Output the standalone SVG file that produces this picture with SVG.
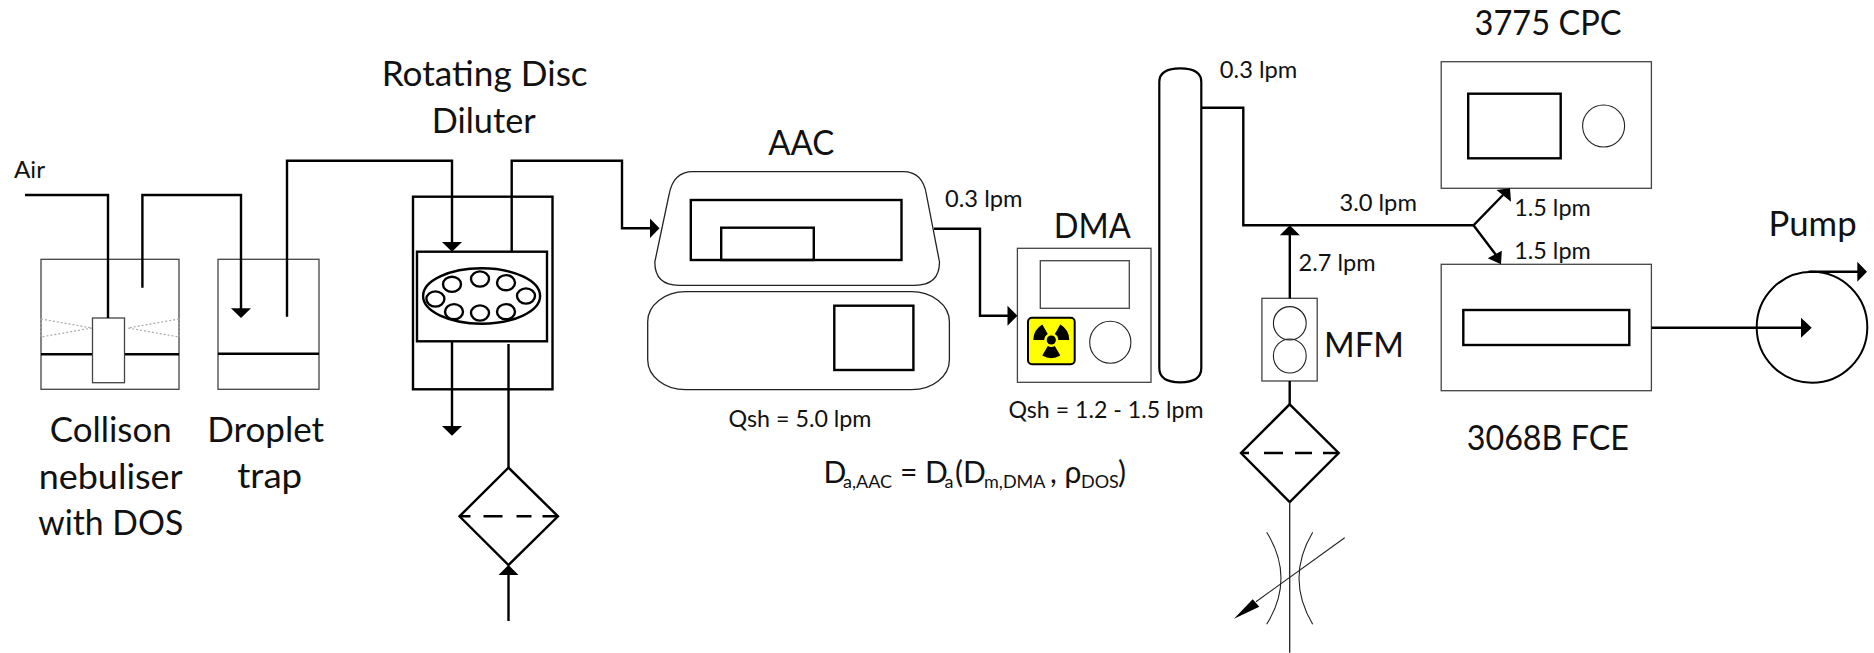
<svg xmlns="http://www.w3.org/2000/svg" width="1874" height="653" viewBox="0 0 1874 653">
<style>
text{font-family:Lato,"Open Sans","Liberation Sans",sans-serif;fill:#111}
.big{font-size:35px}
.sm{font-size:23px}
.eq{font-size:30px}
.sub{font-size:18px}
.box{fill:#fff;stroke:#444;stroke-width:1.3}
.thin{fill:none;stroke:#222;stroke-width:1.1}
.thick{fill:none;stroke:#000;stroke-width:2.4}
.ln{fill:none;stroke:#000;stroke-width:2.4}
.ah{fill:#000;stroke:none}
</style>
<rect width="1874" height="653" fill="#fff"/>
<g id="nebuliser">
<rect class="box" x="41" y="259.3" width="138" height="130"/>
<path d="M41,319L92,328L41,337Z M179,319L128,328L179,337Z" fill="none" stroke="#aaa" stroke-width="1.2" stroke-dasharray="2 2"/>
<path class="ln" d="M41,354.3H179"/>
<rect class="box" x="92.5" y="318" width="32" height="64.7"/>
<text class="big" x="110.7" y="441.7" text-anchor="middle" textLength="122" lengthAdjust="spacingAndGlyphs">Collison</text>
<text class="big" x="110.7" y="489" text-anchor="middle" textLength="144" lengthAdjust="spacingAndGlyphs">nebuliser</text>
<text class="big" x="110.7" y="535" text-anchor="middle" textLength="145" lengthAdjust="spacingAndGlyphs">with DOS</text>
</g>
<g id="trap">
<rect class="box" x="218" y="259.3" width="101" height="130"/>
<path class="ln" d="M218,353.7H319"/>
<text class="big" x="265.7" y="441.7" text-anchor="middle" textLength="117" lengthAdjust="spacingAndGlyphs">Droplet</text>
<text class="big" x="269.7" y="488" text-anchor="middle" textLength="65" lengthAdjust="spacingAndGlyphs">trap</text>
</g>
<g id="diluter">
<rect class="thick" x="413" y="196.7" width="139.5" height="192.6"/>
<rect class="thick" x="417" y="251.7" width="130" height="89.6" style="fill:#fff"/>
<ellipse class="thick" cx="481.6" cy="296" rx="58.5" ry="27.7"/>
<g class="thick">
<ellipse cx="452" cy="284.3" rx="9" ry="7.6"/><ellipse cx="480" cy="279" rx="9" ry="7.6"/><ellipse cx="506" cy="282.7" rx="9" ry="7.6"/><ellipse cx="526" cy="296" rx="9" ry="7.6"/><ellipse cx="435.4" cy="299" rx="9" ry="7.6"/><ellipse cx="454" cy="311.7" rx="9" ry="7.6"/><ellipse cx="480" cy="313" rx="9" ry="7.6"/><ellipse cx="506" cy="311.7" rx="9" ry="7.6"/>
</g>
<text class="big" x="484.7" y="86" text-anchor="middle" textLength="206" lengthAdjust="spacingAndGlyphs">Rotating Disc</text>
<text class="big" x="483.8" y="132.7" text-anchor="middle" textLength="104" lengthAdjust="spacingAndGlyphs">Diluter</text>
</g>
<g id="filter1">
<path class="thick" style="fill:#fff" d="M508.5,467.7L558,516.3L508.5,565L459.5,516.3Z"/>
<path class="ln" d="M459.5,516.3H558" stroke-dasharray="11 13 19 14 15 11 16"/>
</g>
<g id="aac">
<path class="box" style="stroke:#222" d="M693,171.7H903Q923,171.7 926.5,195L939.5,262Q939.5,285.3 914.6,285.3H679Q654.8,285.3 654.8,262L669,195Q673,171.7 693,171.7Z"/>
<rect class="thick" x="690.8" y="200" width="210.7" height="60"/>
<rect class="thick" x="721.2" y="227.7" width="92.6" height="32.3"/>
<rect class="box" style="stroke:#222" x="647.7" y="291.7" width="301.7" height="98" rx="38" ry="30"/>
<rect class="thick" x="834.3" y="305.7" width="79.1" height="64.3"/>
<text class="big" x="801.3" y="155" text-anchor="middle" textLength="66" lengthAdjust="spacingAndGlyphs">AAC</text>
<text class="sm" x="800" y="426.7" text-anchor="middle" textLength="143" lengthAdjust="spacingAndGlyphs">Qsh = 5.0 lpm</text>
</g>
<g id="dma">
<rect class="box" x="1017.4" y="248.3" width="133.6" height="134"/>
<rect class="box" x="1040.3" y="260.7" width="89" height="47.6"/>
<rect x="1028" y="317.7" width="46.7" height="46.6" rx="4" fill="#ff0" stroke="#000" stroke-width="2"/>
<circle cx="1051.3" cy="340" r="4.6" fill="#000"/>
<path fill="#000" d="M1044.3,340H1033.3A18,18 0 0 1 1042.3,324.4L1047.8,333.9A7,7 0 0 0 1044.3,340Z M1058.3,340H1069.3A18,18 0 0 0 1060.3,324.4L1054.8,333.9A7,7 0 0 1 1058.3,340Z M1054.8,346.1L1060.3,355.6A18,18 0 0 1 1042.3,355.6L1047.8,346.1A7,7 0 0 0 1054.8,346.1Z"/>
<ellipse class="thin" cx="1110.3" cy="342.3" rx="20.6" ry="21"/>
<text class="big" x="1092.3" y="238.3" text-anchor="middle" textLength="77" lengthAdjust="spacingAndGlyphs">DMA</text>
<text class="sm" x="1106" y="417.7" text-anchor="middle" textLength="195" lengthAdjust="spacingAndGlyphs">Qsh = 1.2 - 1.5 lpm</text>
</g>
<g id="column">
<path fill="#fff" stroke="#000" stroke-width="2.2" d="M1159.3,82Q1159.3,68.3 1180.3,68.3Q1201.3,68.3 1201.3,82V368Q1201.3,382.3 1180.3,382.3Q1159.3,382.3 1159.3,368Z"/>
</g>
<g id="mfm">
<rect class="box" x="1261.9" y="298.3" width="55.3" height="82.7"/>
<ellipse class="thin" cx="1289.8" cy="323.3" rx="16.4" ry="16.7"/>
<ellipse class="thin" cx="1289.8" cy="356" rx="16.4" ry="17"/>
<text class="big" x="1364" y="357.3" text-anchor="middle" textLength="80" lengthAdjust="spacingAndGlyphs">MFM</text>
</g>
<g id="filter2">
<path class="thick" style="fill:#fff" d="M1289.7,404.3L1338.7,453L1289.7,502L1241,453Z"/>
<path class="ln" d="M1241,453H1338.7" stroke-dasharray="8 15 19 12 17 11 16"/>
</g>
<g id="valve">
<path class="thin" d="M1266.7,532.3Q1295.3,578.3 1266.7,624.3M1312.7,532.3Q1285.3,578.3 1312.7,624.3"/>
<path class="thin" d="M1344.7,537.7L1256,601.7"/>
<path class="ah" d="M1234,618.7L1252.7,599.3L1259.3,606.7Z"/>
</g>
<g id="cpc">
<rect class="box" x="1441.2" y="61.7" width="210.2" height="126.6"/>
<rect class="thick" x="1468.2" y="93.7" width="92.5" height="64.6"/>
<ellipse class="thin" cx="1603.6" cy="126" rx="21" ry="21"/>
<text class="big" x="1548" y="35" text-anchor="middle" textLength="147" lengthAdjust="spacingAndGlyphs">3775 CPC</text>
</g>
<g id="fce">
<rect class="box" x="1441.2" y="264.3" width="210.2" height="126.4"/>
<rect class="thick" x="1463.3" y="310" width="166" height="35"/>
<text class="big" x="1547.8" y="450" text-anchor="middle" textLength="162" lengthAdjust="spacingAndGlyphs">3068B FCE</text>
</g>
<g id="pump">
<ellipse fill="none" stroke="#000" stroke-width="2" cx="1812" cy="327.2" rx="55.3" ry="55.5"/>
<text class="big" x="1812.6" y="236" text-anchor="middle" textLength="88" lengthAdjust="spacingAndGlyphs">Pump</text>
</g>
<g id="connectors">
<path class="ln" d="M25,195H108V318"/>
<path class="ln" d="M142.4,287.7V195H241V310"/>
<path class="ah" d="M241,318L231,308.3H251Z"/>
<path class="ln" d="M287,316.7V160.7H452V244"/>
<path class="ah" d="M452,251.7L442,242H462Z"/>
<path class="ln" d="M511.7,251.7V160.7H622V228.3H652"/>
<path class="ah" d="M659.5,228.3L650,218.6V238Z"/>
<path class="ln" d="M452,341.3V428"/>
<path class="ah" d="M452,435.7L442,426H462Z"/>
<path class="ln" d="M508.5,344V467.7"/>
<path class="ln" d="M508.5,575V621"/>
<path class="ah" d="M508.5,565L498.5,575H518.5Z"/>
<path class="ln" d="M934,228.7H980V315.7H1009"/>
<path class="ah" d="M1017.4,315.7L1007.5,305.7V325.7Z"/>
<path class="ln" d="M1201.3,107.7H1243.3V225.3H1473.5L1503,195"/>
<path class="ln" d="M1473.5,225.3L1496,255"/>
<path class="ah" d="M1510,188.3L1496.5,190L1511,201.7Z"/>
<path class="ah" d="M1501,264.3L1487.7,258.3L1501.8,250.7Z"/>
<path class="ln" d="M1289.8,298.3V233"/>
<path class="ah" d="M1289.8,225.3L1279.8,235.3H1299.8Z"/>
<path class="ln" d="M1289.7,381V404.3"/>
<path d="M1289.7,502V652.7" fill="none" stroke="#222" stroke-width="1.3"/>
<path class="ln" d="M1651.4,327.7H1803"/>
<path class="ah" d="M1811.7,327.7L1801,317.7V337.7Z"/>
<path class="ln" d="M1808.6,271.7H1859"/>
<path class="ah" d="M1867,271.7L1857.3,261.7V281.7Z"/>
</g>
<g id="labels">
<text class="sm" x="14" y="178" textLength="31" lengthAdjust="spacingAndGlyphs">Air</text>
<text class="sm" x="945" y="206.7" textLength="77.5" lengthAdjust="spacingAndGlyphs">0.3 lpm</text>
<text class="sm" x="1219.8" y="78.3" textLength="77.5" lengthAdjust="spacingAndGlyphs">0.3 lpm</text>
<text class="sm" x="1339.4" y="210.7" textLength="77.5" lengthAdjust="spacingAndGlyphs">3.0 lpm</text>
<text class="sm" x="1514.2" y="216" textLength="76.6" lengthAdjust="spacingAndGlyphs">1.5 lpm</text>
<text class="sm" x="1514.2" y="259.3" textLength="76.6" lengthAdjust="spacingAndGlyphs">1.5 lpm</text>
<text class="sm" x="1298.6" y="270.7" textLength="77" lengthAdjust="spacingAndGlyphs">2.7 lpm</text>
<text class="eq" y="483"><tspan x="823.6">D</tspan><tspan class="sub" x="843" dy="5">a,AAC</tspan><tspan x="900" dy="-5">= D</tspan><tspan class="sub" x="944.5" dy="5">a</tspan><tspan x="955" dy="-5">(D</tspan><tspan class="sub" x="984" dy="5">m,DMA</tspan><tspan x="1050" dy="-5">, ρ</tspan><tspan class="sub" x="1081" dy="5">DOS</tspan><tspan x="1118" dy="-5">)</tspan></text>
</g>
</svg>
